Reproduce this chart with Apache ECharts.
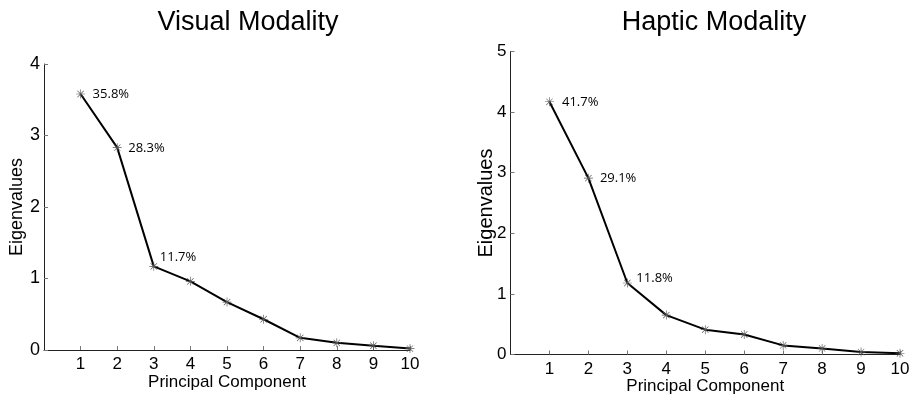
<!DOCTYPE html>
<html>
<head>
<meta charset="utf-8">
<script src="https://cdn.jsdelivr.net/npm/echarts@6/dist/echarts.min.js"></script>
<style>
html,body{margin:0;padding:0;background:#fff;}
#c{width:917px;height:403px;}
</style>
</head>
<body>
<div id="c"></div>
<script>
// ---- data ----
var components = [1, 2, 3, 4, 5, 6, 7, 8, 9, 10];
var visualEigen = [3.58, 2.83, 1.17, 0.96, 0.67, 0.43, 0.17, 0.10, 0.06, 0.02];
var hapticEigen = [4.17, 2.91, 1.18, 0.65, 0.41, 0.33, 0.15, 0.10, 0.04, 0.02];
var visualPct = ['35.8%', '28.3%', '11.7%'];
var hapticPct = ['41.7%', '29.1%', '11.8%'];
var titles = ['Visual Modality', 'Haptic Modality'];
var xName = 'Principal Component';
var yName = 'Eigenvalues';

// ---- style ----
var AX = 'Liberation Sans, Arial, sans-serif';
var SYM = 9;
var star = 'path://M9.3,0h1.4v20h-1.4z M0,9.3h20v1.4h-20z M2.4,3.4L3.4,2.4L17.6,16.6L16.6,17.6z M16.6,2.4L17.6,3.4L3.4,17.6L2.4,16.6z';
var visualOffsets = [[12, 0], [11, 1], [6, -9]];
var hapticOffsets = [[12.5, 0], [11.5, 0], [9, -5]];

function buildData(vals, pcts, offs) {
  return components.map(function (c, i) {
    var item = { value: [c, vals[i]] };
    if (i < pcts.length) {
      item.label = {
        show: true,
        formatter: pcts[i],
        position: [SYM / 2 + offs[i][0], SYM / 2 + offs[i][1]],
        align: 'left',
        verticalAlign: 'middle',
        fontFamily: 'Open Sans, Noto Sans, sans-serif',
        fontSize: 13,
        color: '#000'
      };
    }
    return item;
  });
}

function xAxisCfg(gi) {
  return {
    type: 'value', gridIndex: gi, min: 0, max: 10, interval: 1,
    name: xName, nameLocation: 'middle', nameGap: gi === 0 ? 24 : 23,
    nameMoveOverlap: false,
    nameTextStyle: { fontFamily: AX, fontSize: 17, color: '#000' },
    axisLine: { lineStyle: { color: '#222', width: 1 } },
    axisTick: { inside: true, length: 4, lineStyle: { color: '#777' } },
    axisLabel: { fontFamily: AX, fontSize: 17, color: '#000', margin: 6, showMinLabel: false },
    splitLine: { show: false }
  };
}
function yAxisCfg(gi, max, gap, labelSize) {
  return {
    type: 'value', gridIndex: gi, min: 0, max: max, interval: 1,
    name: yName, nameLocation: 'middle', nameGap: gap, nameRotate: 90,
    nameMoveOverlap: false,
    nameTextStyle: { fontFamily: AX, fontSize: gi === 0 ? 18 : 20, color: '#000' },
    axisLine: { show: true, lineStyle: { color: '#222', width: 1 } },
    axisTick: { show: true, inside: true, length: 4, lineStyle: { color: '#777' } },
    axisLabel: { fontFamily: AX, fontSize: labelSize, color: '#000', margin: 4 },
    splitLine: { show: false }
  };
}
function seriesCfg(gi, data) {
  return {
    type: 'line', xAxisIndex: gi, yAxisIndex: gi, data: data,
    symbol: star, symbolSize: SYM, showAllSymbol: true,
    lineStyle: { color: '#000', width: 2 },
    itemStyle: { color: '#555' },
    emphasis: { disabled: true },
    animation: false, z: 3
  };
}

var chart = echarts.init(document.getElementById('c'));
chart.setOption({
  backgroundColor: '#fff',
  animation: false,
  title: [
    { text: titles[0], left: 243, top: 4, textAlign: 'center',
      textStyle: { fontFamily: AX, fontSize: 27, fontWeight: 'normal', color: '#000' } },
    { text: titles[1], left: 709, top: 4, textAlign: 'center',
      textStyle: { fontFamily: AX, fontSize: 27, fontWeight: 'normal', color: '#000' } }
  ],
  grid: [
    { left: 44, top: 64, width: 366, height: 286 },
    { left: 510.5, top: 51.5, width: 389.5, height: 303 }
  ],
  xAxis: [xAxisCfg(0), xAxisCfg(1)],
  yAxis: [yAxisCfg(0, 4, 18, 18), yAxisCfg(1, 5, 14, 17)],
  series: [
    seriesCfg(0, buildData(visualEigen, visualPct, visualOffsets)),
    seriesCfg(1, buildData(hapticEigen, hapticPct, hapticOffsets))
  ]
});
</script>
</body>
</html>
